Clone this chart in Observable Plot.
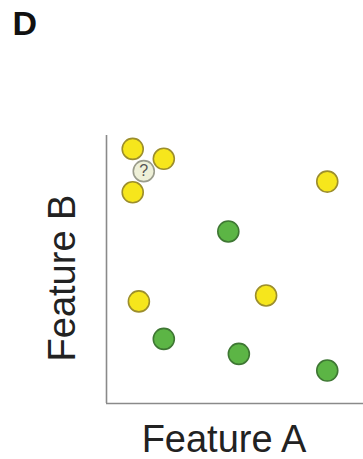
<!DOCTYPE html>
<html>
<head>
<meta charset="utf-8">
<script src="https://cdn.jsdelivr.net/npm/d3@7"></script>
<script src="https://cdn.jsdelivr.net/npm/@observablehq/plot@0.6"></script>
<style>
  html, body { margin: 0; padding: 0; background: #ffffff; }
  #chart svg { display: block; }
</style>
</head>
<body>
<div id="chart"></div>
<script>
const panelLabel = "D";
const xLabel = "Feature A";
const yLabel = "Feature B";

const yellowX = [10.2, 22.3, 10.2, 85.9, 12.6, 62.1];
const yellowY = [95.0, 91.3, 78.8, 82.8, 38.1, 40.3];
const greenX = [47.4, 22.3, 51.5, 85.9];
const greenY = [64.2, 24.1, 18.5, 12.3];
const queryX = [14.5];
const queryY = [86.7];

const yellow = yellowX.map((x, i) => ({x, y: yellowY[i]}));
const green = greenX.map((x, i) => ({x, y: greenY[i]}));
const query = queryX.map((x, i) => ({x, y: queryY[i]}));

const font = "Liberation Sans, Arial, Helvetica, sans-serif";

const chart = Plot.plot({
  width: 363,
  height: 459,
  marginLeft: 106,
  marginRight: 0,
  marginTop: 135,
  marginBottom: 56,
  style: {background: "#ffffff", fontFamily: font},
  x: {domain: [0, 100], axis: null},
  y: {domain: [0, 100], axis: null},
  marks: [
    Plot.ruleX([0], {stroke: "#8a8a8a", strokeWidth: 1.6}),
    Plot.ruleY([0], {stroke: "#8a8a8a", strokeWidth: 1.6}),
    Plot.dot(yellow, {x: "x", y: "y", r: 10.5, fill: "#f6e61c", stroke: "#9c8e2c", strokeWidth: 1.6}),
    Plot.dot(green, {x: "x", y: "y", r: 10.5, fill: "#5cb545", stroke: "#3e7733", strokeWidth: 1.6}),
    Plot.dot(query, {x: "x", y: "y", r: 10.5, fill: "#eef0d8", stroke: "#9a9c8c", strokeWidth: 1.6}),
    Plot.text(query, {x: "x", y: "y", text: () => "?", fontSize: 16, fill: "#555555", fontFamily: font}),
    Plot.text([xLabel], {frameAnchor: "bottom", textAnchor: "middle", lineAnchor: "middle", dx: -11, dy: 36.5, fontSize: 38, fill: "#222222", fontFamily: font}),
    Plot.text([yLabel], {frameAnchor: "left", textAnchor: "middle", lineAnchor: "middle", dx: -44, dy: 8.5, rotate: -90, fontSize: 38, fill: "#222222", fontFamily: font}),
    Plot.text([panelLabel], {frameAnchor: "top-left", textAnchor: "start", lineAnchor: "middle", dx: -94, dy: -111, fontSize: 34, fontWeight: "bold", fill: "#111111", fontFamily: font})
  ]
});
document.getElementById("chart").appendChild(chart);
</script>
</body>
</html>
